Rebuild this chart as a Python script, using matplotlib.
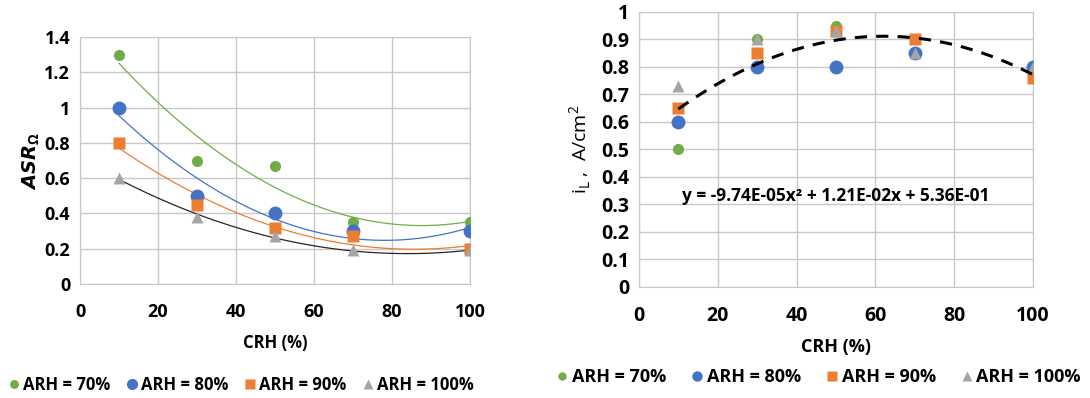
import numpy as np
import matplotlib.pyplot as plt

plt.rcParams['font.family'] = ['Open Sans', 'DejaVu Sans']
plt.rcParams['font.weight'] = 'bold'
plt.rcParams['axes.labelweight'] = 'bold'
plt.rcParams['mathtext.fontset'] = 'custom'
plt.rcParams['mathtext.rm'] = 'Open Sans'
plt.rcParams['mathtext.bf'] = 'Open Sans:bold'
plt.rcParams['mathtext.bfit'] = 'DejaVu Sans:bold:italic'

crh = [10, 30, 50, 70, 100]
labels = ['ARH = 70%', 'ARH = 80%', 'ARH = 90%', 'ARH = 100%']

# area specific resistance
asr_70 = [1.30, 0.70, 0.67, 0.35, 0.35]
asr_80 = [1.00, 0.50, 0.40, 0.30, 0.30]
asr_90 = [0.80, 0.45, 0.32, 0.27, 0.20]
asr_100 = [0.60, 0.38, 0.27, 0.19, 0.19]

# limiting current density
il_70 = [0.50, 0.90, 0.95, 0.85, 0.80]
il_80 = [0.60, 0.80, 0.80, 0.85, 0.80]
il_90 = [0.65, 0.85, 0.93, 0.90, 0.76]
il_100 = [0.73, 0.90, 0.93, 0.85, 0.80]

# quadratic trend for limiting current
il_coef = [-9.74e-05, 1.21e-02, 5.36e-01]

colors = ['#70AD47', '#4472C4', '#ED7D31', '#A5A5A5']
trend_colors = ['#70AD47', '#4472C4', '#ED7D31', '#262626']
markers = ['o', 'o', 's', '^']
sizes = [8, 10, 9, 9]

fig = plt.figure(figsize=(10.9, 3.98), dpi=100)
ax1 = fig.add_axes([0.0734, 0.2864, 0.3578, 0.6206])
ax2 = fig.add_axes([0.5862, 0.2789, 0.3615, 0.691])

xs = np.linspace(10, 100, 200)

# left panel
for ys, c, tc, m, s, lab in zip([asr_70, asr_80, asr_90, asr_100], colors,
                                trend_colors, markers, sizes, labels):
    ax1.plot(crh, ys, m, color=c, ms=s, mec='none', label=lab, zorder=3)
    p = np.polyfit(crh, ys, 2)
    ax1.plot(xs, np.polyval(p, xs), '-', color=tc, lw=0.9, zorder=2)

ax1.set_xlim(0, 100)
ax1.set_ylim(0, 1.4)
ax1.set_xticks(range(0, 101, 20))
ax1.set_yticks(np.arange(0, 1.41, 0.2))
ax1.set_yticklabels(['0', '0.2', '0.4', '0.6', '0.8', '1', '1.2', '1.4'])
ax1.set_xlabel('CRH (%)', fontsize=12, labelpad=9)
ax1.set_ylabel(r'$\mathbfit{ASR}_{\mathbf{\Omega}}$', fontsize=14, labelpad=2)
ax1.legend(loc='upper center', bbox_to_anchor=(0.41, -0.31), ncol=4,
           frameon=False, fontsize=12, handletextpad=0.05, columnspacing=0.8,
           handlelength=1.0, markerscale=0.8)

# right panel
for ys, c, m, s, lab in zip([il_70, il_80, il_90, il_100], colors, markers,
                            sizes, labels):
    ax2.plot(crh, ys, m, color=c, ms=s, mec='none', label=lab, zorder=3)
ax2.plot(xs, np.polyval(il_coef, xs), '--', color='black', lw=2.2,
         dashes=(4, 3), zorder=4)
ax2.text(11, 0.33, 'y = -9.74E-05x² + 1.21E-02x + 5.36E-01',
         fontsize=12.5, fontweight='bold', va='center')

ax2.set_xlim(0, 100)
ax2.set_ylim(0, 1)
ax2.set_xticks(range(0, 101, 20))
ax2.set_yticks(np.arange(0, 1.01, 0.1))
ax2.set_yticklabels(['0', '0.1', '0.2', '0.3', '0.4', '0.5', '0.6', '0.7',
                     '0.8', '0.9', '1'])
ax2.set_xlabel('CRH (%)', fontsize=13, labelpad=8)
ax2.set_ylabel(r'i$_\mathregular{L}$ ,  A/cm$^\mathregular{2}$', fontsize=14,
               fontweight='normal', labelpad=6)
ax2.legend(loc='upper center', bbox_to_anchor=(0.452, -0.235), ncol=4,
           frameon=False, fontsize=13, handletextpad=0.05, columnspacing=1.2,
           handlelength=1.0, markerscale=0.75)

for ax, fs in [(ax1, 13), (ax2, 14)]:
    ax.grid(True, color='#C8C8C8', lw=1.0)
    ax.set_axisbelow(True)
    for sp in ax.spines.values():
        sp.set_color('#C8C8C8')
    ax.tick_params(axis='y', length=0, labelsize=fs, pad=7)
    ax.tick_params(axis='x', length=0, labelsize=fs, pad=14)

fig.savefig('out.png', dpi=100)
